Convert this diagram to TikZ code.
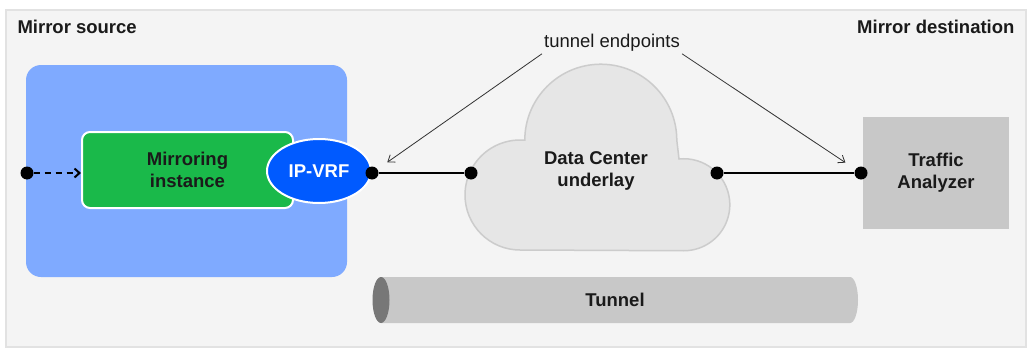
\documentclass[tikz,border=0pt]{standalone}
\usepackage{fontspec}
\setmainfont{Liberation Sans}
\usetikzlibrary{shapes.geometric,arrows.meta}
\definecolor{panel}{HTML}{F4F4F4}
\definecolor{panelline}{HTML}{E2E2E2}
\definecolor{srcblue}{RGB}{127,170,255}
\definecolor{mirgreen}{RGB}{26,185,74}
\definecolor{vrfblue}{RGB}{0,90,255}
\definecolor{cloudfill}{HTML}{E6E6E6}
\definecolor{cloudline}{HTML}{CCCCCC}
\definecolor{boxgray}{HTML}{C8C8C8}
\definecolor{capgray}{HTML}{777777}
\definecolor{ink}{HTML}{1A1A1A}
\tikzset{
  txt/.style={font=\fontsize{18.5}{22}\selectfont\bfseries, text=ink, align=center},
  dotnode/.style={circle, fill=black, inner sep=0pt, minimum size=13pt},
  conn/.style={line width=2pt, draw=black},
  pointer/.style={draw=ink!90, line width=0.8pt, -{Straight Barb[length=6pt,width=9pt]}},
}
\begin{document}
\begin{tikzpicture}[x=1pt,y=-1pt]
\useasboundingbox (0,0) rectangle (1028,348);
\fill[white] (0,0) rectangle (1028,348);
% panel
\draw[fill=panel, draw=panelline, line width=1.5pt] (6,10) rectangle (1026,347);
\node[txt, anchor=west] (msrc) at (14,27) {Mirror source};
\node[txt, anchor=east] (mdst) at (1018,27) {Mirror destination};
% source area
\fill[srcblue, rounded corners=15pt] (26,65) rectangle (347,277);
% cloud
\draw[fill=cloudfill, draw=cloudline, line width=1.5pt]
  (520,250) arc[start angle=90, end angle=275, radius=55]
  arc[start angle=180, end angle=360, radius=76]
  -- (679,159)
  arc[start angle=264, end angle=450, radius=46]
  -- cycle;
% tunnel
\fill[boxgray] (381,277) -- (850,277) arc[start angle=270, end angle=450, x radius=8, y radius=23] -- (381,323) -- cycle;
\fill[capgray] (381,300) ellipse[x radius=8.5, y radius=23];
\node[txt] (tun) at (615,300) {Tunnel};
% nodes
\node[txt, draw=white, line width=2pt, fill=mirgreen, rounded corners=8pt, minimum width=211pt, minimum height=76pt] (mir) at (187.5,170) {Mirroring\\instance};
\node[ellipse, draw=white, line width=2pt, fill=vrfblue, minimum width=104pt, minimum height=64pt, inner sep=0pt, font=\fontsize{18.5}{22}\selectfont\bfseries, text=white] (vrf) at (319,171) {IP-VRF};
\node[txt] (dc) at (596,171) {Data Center\\underlay};
\node[txt, fill=boxgray, minimum width=146pt, minimum height=112pt] (ta) at (936,173) {Traffic\\Analyzer};
\node[dotnode] (d0) at (27,173) {};
\node[dotnode] (d1) at (372,173) {};
\node[dotnode] (d2) at (471,173) {};
\node[dotnode] (d3) at (717,173) {};
\node[dotnode] (d4) at (861,173) {};
\node[font=\fontsize{18.5}{22}\selectfont, text=ink, inner sep=2pt] (te) at (612,43) {tunnel endpoints};
% connectors
\draw[line width=2pt, dash pattern=on 6pt off 5pt, -{Straight Barb[length=5pt,width=9pt]}] (d0) -- (mir.west |- d0);
\draw[conn] (d1) -- (d2);
\draw[conn] (d3) -- (d4);
\draw[pointer, shorten >=12pt] (te.south west) -- (d1);
\draw[pointer, shorten >=12pt] (te.south east) -- (d4);
\end{tikzpicture}
\end{document}
